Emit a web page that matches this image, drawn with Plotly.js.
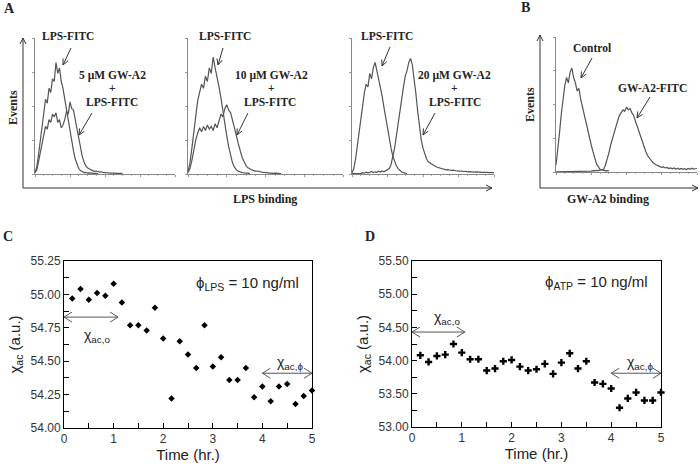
<!DOCTYPE html>
<html>
<head>
<meta charset="utf-8">
<script src="https://cdn.plot.ly/plotly-3.0.1.min.js"></script>
<style>
body { margin: 0; background: #fff; }
#plot { width: 700px; height: 467px; }
</style>
</head>
<body>
<div id="plot"></div>
<script>
// flow cytometry histograms, bins of 0.05 decade starting at 10^0 (values = % of axis height)
var h1Lps = [1, 5, 14, 25, 36, 47, 55, 52, 63, 60, 70, 68, 82, 74, 78, 68, 63, 55, 47, 40, 31, 24, 17, 11, 7, 4, 2.5, 1.5, 1, 1.2, 0.6, 0.8, 0.5, 0.6, 0.4, 0.5, 0.3];
var h1Gw = [1, 3, 9, 16, 24, 30, 35, 33, 40, 38, 44, 42, 45, 38, 40, 34, 36, 40, 46, 44, 53, 48, 47, 40, 33, 26, 19, 13, 9, 6, 4.5, 3.5, 3, 2.5, 2, 2.2, 1.6, 1.4, 1.6, 1, 1.1, 0.8, 0.9, 0.6, 0.7, 0.5, 0.6, 0.4, 0.5, 0.3, 0.4];
var h2Lps = [2, 8, 19, 32, 44, 54, 60, 66, 63, 72, 68, 78, 74, 86, 78, 72, 64, 56, 46, 37, 28, 20, 13, 8, 5, 3, 2, 1.4, 1, 0.8, 0.6, 0.5, 0.4];
var h2Gw = [1, 4, 10, 18, 25, 30, 34, 31, 35, 32, 36, 33, 35, 32, 37, 34, 40, 44, 42, 48, 51, 47, 45, 40, 34, 28, 22, 17, 12, 9, 6, 4.5, 3.5, 3, 2.5, 2, 2.2, 1.6, 1.4, 1.2, 1, 0.9, 0.8, 0.6, 0.5, 0.6, 0.4, 0.5, 0.3];
var h3Lps = [1, 4, 11, 21, 32, 43, 52, 60, 66, 64, 74, 70, 78, 82, 76, 70, 64, 57, 49, 41, 33, 26, 19, 13, 9, 6, 4, 2.5, 1.5, 1, 0.6, 0.4];
var h3Gw = [0.3, 0.3, 0.3, 0.3, 0.3, 0.3, 1, 0.6, 1.4, 0.8, 1.2, 1.8, 1, 1.6, 1.2, 2, 1.4, 2.2, 1.6, 2.4, 2.8, 4, 7, 12, 19, 28, 38, 48, 57, 64, 72, 76, 82, 85, 80, 71, 59, 46, 34, 25, 19, 14, 11, 9, 8, 7, 6, 5.5, 5, 4.5, 4, 3.6, 3.4, 3, 3.2, 2.8, 2.6, 2.8, 2.4, 2.2, 2.4, 2, 2.2, 1.8, 2, 1.6, 1.8, 1.5, 1.6, 1.4, 1.5, 1.2, 1.4, 1.2, 1.3, 1, 1.2, 1, 1.1, 0.9, 1];
var bCtrl = [5, 15, 29, 43, 55, 64, 70, 66, 74, 77, 70, 66, 60, 62, 54, 48, 44, 38, 32, 26, 20, 15, 10, 6, 4, 2, 1.5, 1, 0.8, 1, 0.6];
var bGw = [0.2, 0.2, 0.2, 0.2, 0.2, 0.2, 0.2, 0.2, 0.2, 0.2, 0.2, 0.2, 0.2, 0.2, 0.2, 0.2, 0.2, 0.2, 0.3, 0.4, 0.6, 1, 0.8, 1.2, 1, 1.4, 1.6, 2, 5, 9, 14, 20, 25, 30, 34, 38, 42, 44, 46, 45, 48, 46, 47, 44, 42, 38, 34, 30, 26, 22, 18, 15, 12, 10, 8, 7, 6, 5, 4.5, 4, 3.5, 3.8, 3, 3.4, 2.6, 3, 2.4, 3, 2.2, 2.8, 2, 2.6, 2, 2.4, 1.8, 2.6, 2, 2.8, 2.2, 2.4, 2.6];

// susceptibility time series
var timeHr = [0.167, 0.333, 0.5, 0.667, 0.833, 1.0, 1.167, 1.333, 1.5, 1.667, 1.833, 2.0, 2.167, 2.333, 2.5, 2.667, 2.833, 3.0, 3.167, 3.333, 3.5, 3.667, 3.833, 4.0, 4.167, 4.333, 4.5, 4.667, 4.833, 5.0];
var chiLps = [54.97, 55.04, 54.96, 55.01, 54.99, 55.08, 54.94, 54.77, 54.77, 54.73, 54.90, 54.67, 54.22, 54.65, 54.55, 54.45, 54.77, 54.46, 54.53, 54.36, 54.36, 54.45, 54.23, 54.31, 54.20, 54.31, 54.33, 54.18, 54.24, 54.28];
var chiAtp = [54.08, 53.98, 54.07, 54.09, 54.25, 54.12, 54.02, 54.02, 53.85, 53.88, 53.99, 54.01, 53.91, 53.85, 53.87, 53.95, 53.80, 53.97, 54.11, 53.88, 53.99, 53.67, 53.65, 53.58, 53.29, 53.43, 53.52, 53.40, 53.40, 53.52];

var W = 700, H = 467;
function px(x) { return x / W; }
function py(y) { return 1 - y / H; }

function hist(vals, n) {
  return { type: 'scatter', mode: 'lines', x0: 0, dx: 0.05, y: vals,
    xaxis: 'x' + n, yaxis: 'y' + n, line: { color: '#555', width: 1.2 },
    hoverinfo: 'skip', showlegend: false };
}

var traces = [
  hist(h1Lps, ''), hist(h1Gw, ''),
  hist(h2Lps, 2), hist(h2Gw, 2),
  hist(h3Lps, 3), hist(h3Gw, 3),
  hist(bCtrl, 4), hist(bGw, 4),
  { type: 'scatter', mode: 'markers', x: timeHr, y: chiLps, xaxis: 'x5', yaxis: 'y5',
    marker: { symbol: 'diamond', size: 5, color: '#000' }, cliponaxis: false, showlegend: false },
  { type: 'scatter', mode: 'markers', x: timeHr, y: chiAtp, xaxis: 'x6', yaxis: 'y6',
    marker: { symbol: 'cross', size: 6, color: '#000' }, cliponaxis: false, showlegend: false }
];

function histX(l, r, anchor) {
  return { domain: [px(l), px(r)], anchor: anchor, range: [0, 4], showline: true,
    linecolor: '#888', linewidth: 1, ticks: 'outside', ticklen: 2, tickcolor: '#999',
    dtick: 1, showticklabels: false, showgrid: false, zeroline: false,
    minor: { dtick: 0.25, ticks: 'outside', ticklen: 1, tickcolor: '#aaa' } };
}
function histY(b, t, anchor) {
  return { domain: [py(b), py(t)], anchor: anchor, range: [0, 100], showline: true,
    linecolor: '#888', linewidth: 1, ticks: 'outside', ticklen: 2, tickcolor: '#999',
    dtick: 25, showticklabels: false, showgrid: false, zeroline: false };
}

var sans = 'Liberation Sans, Arial, sans-serif';
var serif = 'Liberation Serif, Times New Roman, serif';

function chiX(l, r, anchor) {
  return { domain: [px(l), px(r)], anchor: anchor, range: [0, 5], dtick: 1,
    showline: true, mirror: true, linecolor: '#000', linewidth: 1,
    ticks: 'inside', ticklen: 5, tickcolor: '#000',
    minor: { dtick: 0.5, ticks: 'inside', ticklen: 5, tickcolor: '#000' },
    showgrid: false, zeroline: false, tickfont: { family: sans, size: 12, color: '#333' },
    title: { text: 'Time (hr.)', font: { family: sans, size: 15, color: '#222' }, standoff: 2 } };
}
function chiY(b, t, anchor, lo, hi, step) {
  return { domain: [py(b), py(t)], anchor: anchor, range: [lo, hi], dtick: step,
    tickformat: '.2f', showline: true, mirror: true, linecolor: '#000', linewidth: 1,
    ticks: 'inside', ticklen: 5, tickcolor: '#000',
    minor: { dtick: step / 2, ticks: 'inside', ticklen: 5, tickcolor: '#000' },
    showgrid: false, zeroline: false, tickfont: { family: sans, size: 12, color: '#333' },
    title: { text: 'χ<sub>ac</sub> (a.u.)', font: { family: sans, size: 15, color: '#222' }, standoff: 6 } };
}

var ann = [];
var shapes = [];
function label(x, y, text, size, extra) {
  var a = { xref: 'paper', yref: 'paper', x: px(x), y: py(y), text: text, showarrow: false,
    xanchor: 'center', yanchor: 'middle',
    font: { family: serif, size: size, color: '#222', weight: 'bold' } };
  for (var k in extra) a[k] = extra[k];
  ann.push(a);
}

// arrow as a line shape plus open chevron head(s), all in pixel coords
function head(tx, ty, hx, hy, len, spread, color) {
  var dx = hx - tx, dy = hy - ty, d = Math.sqrt(dx * dx + dy * dy);
  var ux = dx / d, uy = dy / d, nx = -uy, ny = ux;
  var ax = hx - ux * len + nx * spread, ay = hy - uy * len + ny * spread;
  var bx = hx - ux * len - nx * spread, by = hy - uy * len - ny * spread;
  shapes.push({ type: 'path', xref: 'paper', yref: 'paper',
    path: 'M' + px(ax) + ',' + py(ay) + 'L' + px(hx) + ',' + py(hy) + 'L' + px(bx) + ',' + py(by),
    line: { color: color, width: 1 } });
}
function arrow(x1, y1, x2, y2, both, len, spread, color) {
  shapes.push({ type: 'line', xref: 'paper', yref: 'paper',
    x0: px(x1), y0: py(y1), x1: px(x2), y1: py(y2), line: { color: color, width: 1 } });
  head(x1, y1, x2, y2, len, spread, color);
  if (both) head(x2, y2, x1, y1, len, spread, color);
}
function pointer(x1, y1, x2, y2) { arrow(x1, y1, x2, y2, false, 6, 2.8, '#333'); }

// panel letters and outer labels
label(9, 8, 'A', 14); label(525, 7, 'B', 14); label(8, 237, 'C', 14); label(370, 237, 'D', 14);
label(13, 108, 'Events', 12, { textangle: -90 });
label(530, 105, 'Events', 12, { textangle: -90 });
label(265, 199, 'LPS binding', 12);
label(608, 199, 'GW-A2 binding', 12);

// outer arrowed axes
arrow(23, 188, 23, 38, false, 6, 3, '#333'); arrow(23, 188, 492, 188, false, 6, 3, '#333');
arrow(540, 188, 540, 35, false, 6, 3, '#333'); arrow(540, 188, 698, 188, false, 6, 3, '#333');

// histogram labels
var concs = ['5 µM GW-A2', '10 µM GW-A2', '20 µM GW-A2'];
label(68, 36, 'LPS-FITC', 11.5); pointer(71, 48, 63, 65);
label(112, 75, concs[0], 11.5); label(112, 88, '+', 11.5); label(112, 102, 'LPS-FITC', 11.5); pointer(92, 113, 79, 135);
label(225, 36, 'LPS-FITC', 11.5); pointer(223, 48, 218, 65);
label(271, 75, concs[1], 11.5); label(271, 88, '+', 11.5); label(270, 102, 'LPS-FITC', 11.5); pointer(248, 113, 237, 135);
label(387, 36, 'LPS-FITC', 11.5); pointer(390, 47, 382, 66);
label(454, 75, concs[2], 11.5); label(454, 88, '+', 11.5); label(455, 102, 'LPS-FITC', 11.5); pointer(435, 113, 423, 135);
label(592, 48, 'Control', 11.5); pointer(592, 58, 581, 78);
label(652, 88, 'GW-A2-FITC', 11.5); pointer(650, 97, 637, 118);

// annotations inside C and D
function dataText(n, x, y, text, size) {
  ann.push({ xref: 'x' + n, yref: 'y' + n, x: x, y: y, text: text, showarrow: false,
    xanchor: 'center', yanchor: 'middle', font: { family: sans, size: size, color: '#222' } });
}
// data -> pixel for the two time plots (same domains as the axes)
var frames = {
  5: { l: 64, r: 312, b: 428, t: 261, lo: 54, hi: 55.25 },
  6: { l: 412, r: 661, b: 427, t: 261, lo: 53, hi: 55.5 }
};
function span(n, x0, x1, y) {
  var f = frames[n];
  var X0 = f.l + x0 / 5 * (f.r - f.l), X1 = f.l + x1 / 5 * (f.r - f.l);
  var Y = f.b - (y - f.lo) / (f.hi - f.lo) * (f.b - f.t);
  arrow(X0, Y, X1, Y, true, 8, 5, '#555');
}
dataText(5, 3.7, 55.085, 'ϕ<sub>LPS</sub> = 10 ng/ml', 15);
span(5, 0.0, 1.09, 54.83); dataText(5, 0.66, 54.69, 'χ<sub>ac,o</sub>', 14);
span(5, 4.0, 5.0, 54.41); dataText(5, 4.56, 54.49, 'χ<sub>ac,ϕ</sub>', 14);

dataText(6, 3.71, 55.17, 'ϕ<sub>ATP</sub> = 10 ng/ml', 15);
span(6, 0.0, 1.06, 54.43); dataText(6, 0.70, 54.64, 'χ<sub>ac,o</sub>', 14);
span(6, 4.0, 5.0, 53.81); dataText(6, 4.58, 53.96, 'χ<sub>ac,ϕ</sub>', 14);

var layout = {
  width: W, height: H, autosize: false,
  margin: { l: 0, r: 0, t: 0, b: 0 },
  paper_bgcolor: '#fff', plot_bgcolor: 'rgba(0,0,0,0)',
  showlegend: false,
  xaxis: histX(35, 175, 'y'), yaxis: histY(174, 38, 'x'),
  xaxis2: histX(188, 343, 'y2'), yaxis2: histY(174, 38, 'x2'),
  xaxis3: histX(352, 494, 'y3'), yaxis3: histY(174, 38, 'x3'),
  xaxis4: histX(556, 697, 'y4'), yaxis4: histY(172, 37, 'x4'),
  xaxis5: chiX(64, 312, 'y5'), yaxis5: chiY(428, 261, 'x5', 54, 55.25, 0.25),
  xaxis6: chiX(412, 661, 'y6'), yaxis6: chiY(427, 261, 'x6', 53, 55.5, 0.5),
  annotations: ann,
  shapes: shapes
};

Plotly.newPlot('plot', traces, layout, { staticPlot: true });
</script>
</body>
</html>
